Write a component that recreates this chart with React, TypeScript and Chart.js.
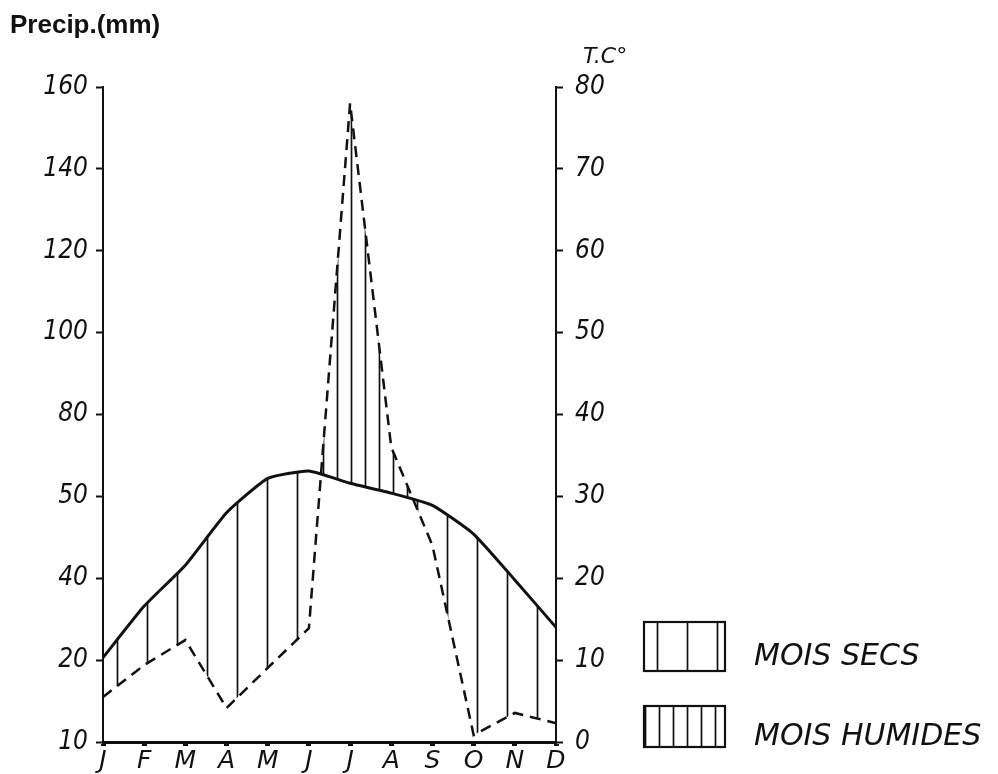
import React, { useEffect, useRef } from 'react';
import { Chart, registerables } from 'chart.js';

Chart.register(...registerables);

const MONTHS = ['J', 'F', 'M', 'A', 'M', 'J', 'J', 'A', 'S', 'O', 'N', 'D'];
// Temperature (°C), solid line, right axis
const TEMPERATURE = [10.3, 16.6, 21.6, 28.0, 32.2, 33.1, 31.6, 30.4, 28.9, 25.4, 19.8, 14.0];
// Precipitation, dashed line, left axis (position on the 0..160 scale)
const PRECIPITATION = [11, 18.8, 24.9, 8.3, 18.1, 27.8, 156, 72, 48, 1.7, 7.1, 4.6];
// Left axis tick labels, as printed on the original
const PRECIP_TICK_LABELS = ['10', '20', '40', '50', '80', '100', '120', '140', '160'];
const LEGEND_LABELS = ['MOIS SECS', 'MOIS HUMIDES'];
const TITLE_LEFT = 'Precip.(mm)';
const TITLE_RIGHT = 'T.C°';

const INK = '#111';
const TICK_FONT = "'Liberation Sans Narrow', 'DejaVu Sans Condensed', 'Liberation Sans', sans-serif";
const LETTER_FONT = "'DejaVu Sans', sans-serif";

function makeHatch(ctx: CanvasRenderingContext2D, period: number, phase: number, width: number) {
  const tile = document.createElement('canvas');
  tile.width = period;
  tile.height = 10;
  const g = tile.getContext('2d')!;
  g.strokeStyle = INK;
  g.lineWidth = width;
  g.beginPath();
  g.moveTo(phase, 0);
  g.lineTo(phase, 10);
  g.stroke();
  return ctx.createPattern(tile, 'repeat')!;
}

export default function App() {
  const ref = useRef<HTMLCanvasElement>(null);

  useEffect(() => {
    const canvas = ref.current!;
    const ctx = canvas.getContext('2d')!;
    const dry = makeHatch(ctx, 30, 27.5, 1.7);
    const humid = makeHatch(ctx, 14, 1.5, 1.7);

    const extras = {
      id: 'ombroExtras',
      afterDraw(chart: any) {
        const { ctx: c, chartArea, scales } = chart;
        c.save();
        c.fillStyle = INK;
        c.font = `italic 22px ${LETTER_FONT}`;
        c.textAlign = 'left';
        c.textBaseline = 'alphabetic';
        c.fillText(TITLE_RIGHT, scales.y1.left + 27, chartArea.top - 24);

        const bx = chartArea.right + 88;
        const boxes = [
          { y: chartArea.bottom - 120, h: 49, fill: dry, base: chartArea.bottom - 77 },
          { y: chartArea.bottom - 36, h: 41, fill: humid, base: chartArea.bottom + 3 },
        ];
        boxes.forEach((b, i) => {
          c.fillStyle = b.fill;
          c.fillRect(bx, b.y, 81, b.h);
          c.strokeStyle = INK;
          c.lineWidth = 2.2;
          c.strokeRect(bx, b.y, 81, b.h);
          c.fillStyle = INK;
          c.font = `italic 30px ${LETTER_FONT}`;
          c.fillText(LEGEND_LABELS[i], bx + 110, b.base);
        });
        c.restore();
      },
    };

    const chart = new Chart(canvas, {
      type: 'line',
      data: {
        labels: MONTHS,
        datasets: [
          {
            label: 'T °C',
            data: TEMPERATURE,
            yAxisID: 'y1',
            borderColor: INK,
            borderWidth: 3,
            tension: 0.15,
            pointRadius: 0,
            fill: false,
          },
          {
            label: 'Precip. (mm)',
            data: PRECIPITATION,
            yAxisID: 'y',
            borderColor: INK,
            borderWidth: 2.5,
            borderDash: [11, 7],
            tension: 0,
            pointRadius: 0,
            fill: { target: 0, above: humid, below: dry },
          },
        ],
      },
      options: {
        animation: false,
        responsive: true,
        maintainAspectRatio: false,
        layout: { padding: { left: 10, right: 0, top: 0, bottom: 0 } },
        plugins: {
          legend: { display: false },
          tooltip: { enabled: false },
          title: {
            display: true,
            text: TITLE_LEFT,
            align: 'start',
            color: INK,
            font: { family: "'Liberation Sans', Arial, sans-serif", weight: 'bold', size: 26 },
            padding: { top: 10, bottom: 45.8 },
          },
        },
        scales: {
          x: {
            type: 'category',
            offset: false,
            grid: { drawOnChartArea: false, drawTicks: true, tickLength: 4, tickWidth: 5, color: INK },
            border: { display: true, color: INK, width: 3 },
            ticks: {
              color: INK,
              autoSkip: false,
              maxRotation: 0,
              padding: 0,
              font: { family: LETTER_FONT, style: 'italic', size: 25 },
            },
            afterFit: (s: any) => { s.height = 32; },
          },
          y: {
            position: 'left',
            min: 0,
            max: 160,
            grid: { drawOnChartArea: false, tickLength: 7, tickWidth: 2, color: INK },
            border: { display: true, color: INK, width: 2 },
            ticks: {
              stepSize: 20,
              color: INK,
              padding: 8,
              font: { family: TICK_FONT, style: 'italic', size: 26 },
              callback: (_v: any, i: number) => PRECIP_TICK_LABELS[i],
            },
            afterFit: (s: any) => { s.width = 93; },
          },
          y1: {
            position: 'right',
            min: 0,
            max: 80,
            grid: { drawOnChartArea: false, tickLength: 7, tickWidth: 2, color: INK },
            border: { display: true, color: INK, width: 2 },
            ticks: {
              stepSize: 10,
              color: INK,
              padding: 12,
              font: { family: TICK_FONT, style: 'italic', size: 26 },
            },
            afterFit: (s: any) => { s.width = 442; },
          },
        },
      },
      plugins: [extras],
    });

    return () => chart.destroy();
  }, []);

  return (
    <div style={{ position: 'fixed', left: 0, top: 0, width: 998, height: 774, background: '#fff' }}>
      <canvas ref={ref} />
    </div>
  );
}
